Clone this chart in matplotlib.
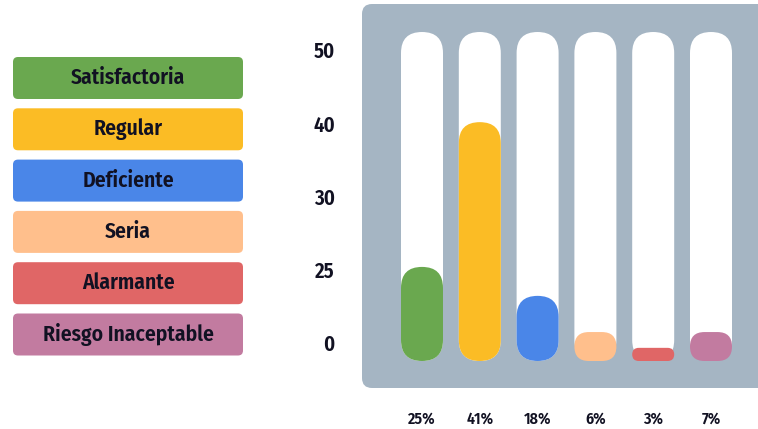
import matplotlib
matplotlib.use("Agg")
import matplotlib.pyplot as plt
from matplotlib.patches import FancyBboxPatch
from matplotlib import font_manager as fm
import numpy as np

# ---- data ----
categories = ["Satisfactoria", "Regular", "Deficiente", "Seria", "Alarmante", "Riesgo Inaceptable"]
colors = ["#6aa84f", "#fbbc25", "#4a86e8", "#ffbf8c", "#e06666", "#c27ba0"]
fill_values = [28.6, 72.6, 19.8, 8.8, 4.0, 8.8]   # bar fill (track = 100)
pct_labels = ["25%", "41%", "18%", "6%", "3%", "7%"]
ytick_labels = ["0", "25", "30", "40", "50"]

W, H = 758, 429
avail = set(f.name for f in fm.fontManager.ttflist)
fam = [f for f in ['Fira Sans Condensed', 'Fira Sans'] if f in avail] + ['DejaVu Sans']
plt.rcParams['font.family'] = fam
if fam[0] != 'Fira Sans Condensed':
    plt.rcParams['font.stretch'] = 'condensed'
TXT = "#111122"

fig = plt.figure(figsize=(W / 100, H / 100), dpi=100)

bg = fig.add_axes([0, 0, 1, 1])
bg.set_xlim(0, W)
bg.set_ylim(H, 0)
bg.axis("off")

panel = FancyBboxPatch((362, 4), 420, 384, boxstyle="round,pad=0,rounding_size=10",
                       fc="#a5b5c3", ec="none")
bg.add_patch(panel)

for i, (cat, col) in enumerate(zip(categories, colors)):
    top = 57 + i * 51.3
    box = FancyBboxPatch((13, top), 230, 42, boxstyle="round,pad=0,rounding_size=5",
                         fc=col, ec="none")
    bg.add_patch(box)
    bg.text(128, top + 21, cat, ha="center", va="center", fontsize=15.5,
            fontweight="semibold", color=TXT)

px_unit_x = 57.8
track_top, track_bot = 32, 361
left_px = 422 - px_unit_x / 2
ax = fig.add_axes([left_px / W, (H - track_bot) / H, 6 * px_unit_x / W,
                   (track_bot - track_top) / H])
ax.set_xlim(-0.5, 5.5)
ax.set_ylim(0, 100)
ax.patch.set_alpha(0)
for s in ax.spines.values():
    s.set_visible(False)

px_unit_y = (track_bot - track_top) / 100.0
ma = px_unit_x / px_unit_y
bw = 42 / px_unit_x

def capsule(xc, h, col, rpx):
    r = rpx / px_unit_x
    r = min(r, bw / 2, (h / ma) / 2)
    p = FancyBboxPatch((xc - bw / 2, 0), bw, h,
                       boxstyle=f"round,pad=0,rounding_size={r}",
                       mutation_aspect=ma, fc=col, ec="none")
    ax.add_patch(p)

x = np.arange(len(categories))
for xi, v, col in zip(x, fill_values, colors):
    capsule(xi, 100, "white", 21)
    capsule(xi, v, col, 21)

ax.set_xticks(x)
ax.set_xticklabels(pct_labels, fontsize=11.5, fontweight="semibold", color=TXT)
ax.tick_params(axis="x", length=0, pad=36)
ax.set_yticks(np.linspace(5.5, 94.5, len(ytick_labels)))
ax.set_yticklabels(ytick_labels, fontsize=15, fontweight="semibold", color=TXT)
ax.tick_params(axis="y", length=0, pad=42)

fig.savefig("out.png", dpi=100)
